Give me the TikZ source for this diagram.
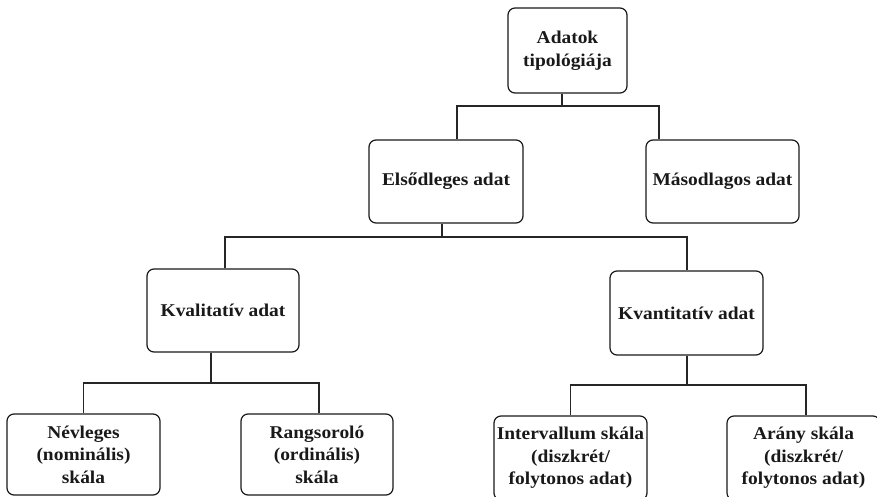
\documentclass[tikz,border=0pt]{standalone}
\usepackage{fontspec}
\setmainfont{Liberation Serif}[FakeStretch=1.08]
\begin{document}
\begin{tikzpicture}[x=1pt,y=-1pt,
  box/.style={draw=black!90, line width=1.2pt, rounded corners=7pt, align=center,
    inner sep=0pt, font=\fontsize{18}{22.5}\selectfont\bfseries, text=black!90},
  link/.style={draw=black!85, line width=1.2pt}]
\useasboundingbox (0,0) rectangle (877,497);

% tree nodes
\node[box, minimum width=119pt, minimum height=85pt] (top)   at (567.5,50.5) {Adatok\\tipológiája};
\node[box, minimum width=154pt, minimum height=83pt] (prim)  at (446,181.5)  {Elsődleges adat};
\node[box, minimum width=153pt, minimum height=83pt] (sec)   at (722.5,181.5) {Másodlagos adat};
\node[box, minimum width=152pt, minimum height=83pt] (qual)  at (223,310.5)  {Kvalitatív adat};
\node[box, minimum width=153pt, minimum height=84pt] (quant) at (686.5,313)  {Kvantitatív adat};
\node[box, minimum width=153pt, minimum height=81pt] (nom)   at (83.5,454.5) {Névleges\\(nominális)\\skála};
\node[box, minimum width=152pt, minimum height=81pt] (ord)   at (317,454.5)  {Rangsoroló\\(ordinális)\\skála};
\node[box, minimum width=153pt, minimum height=84pt] (int)   at (570.5,458)  {Intervallum skála\\(diszkrét/\\folytonos adat)};
\node[box, minimum width=153pt, minimum height=84pt] (ratio) at (803.5,458)  {Arány skála\\(diszkrét/\\folytonos adat)};

% levels of the horizontal connector bars
\coordinate (r1) at (0,106);
\coordinate (r2) at (0,237);
\coordinate (r3) at (0,383);
\coordinate (r4) at (0,385);

% stem points on the boxes
\coordinate (a0) at ([xshift=-5.5pt]top.south);
\coordinate (a1) at ([xshift=11pt]prim.north);
\coordinate (a2) at ([xshift=-63.5pt]sec.north);
\coordinate (b0) at ([xshift=-4pt]prim.south);
\coordinate (b1) at ([xshift=2pt]qual.north);
\coordinate (b2) at ([xshift=0.5pt]quant.north);
\coordinate (c0) at ([xshift=-12pt]qual.south);
\coordinate (c1) at (nom.north);
\coordinate (c2) at ([xshift=2pt]ord.north);
\coordinate (d0) at ([xshift=0.5pt]quant.south);
\coordinate (d1) at (int.north);
\coordinate (d2) at ([xshift=2.5pt]ratio.north);

% connectors
\draw[link] (a0) -- (a0 |- r1);
\draw[link] (a1) |- (a2 |- r1) -- (a2);
\draw[link] (b0) -- (b0 |- r2);
\draw[link] (b1) |- (b2 |- r2) -- (b2);
\draw[link] (c0) -- (c0 |- r3);
\draw[link] (c1) |- (c2 |- r3) -- (c2);
\draw[link] (d0) -- (d0 |- r4);
\draw[link] (d1) |- (d2 |- r4) -- (d2);
\end{tikzpicture}
\end{document}
